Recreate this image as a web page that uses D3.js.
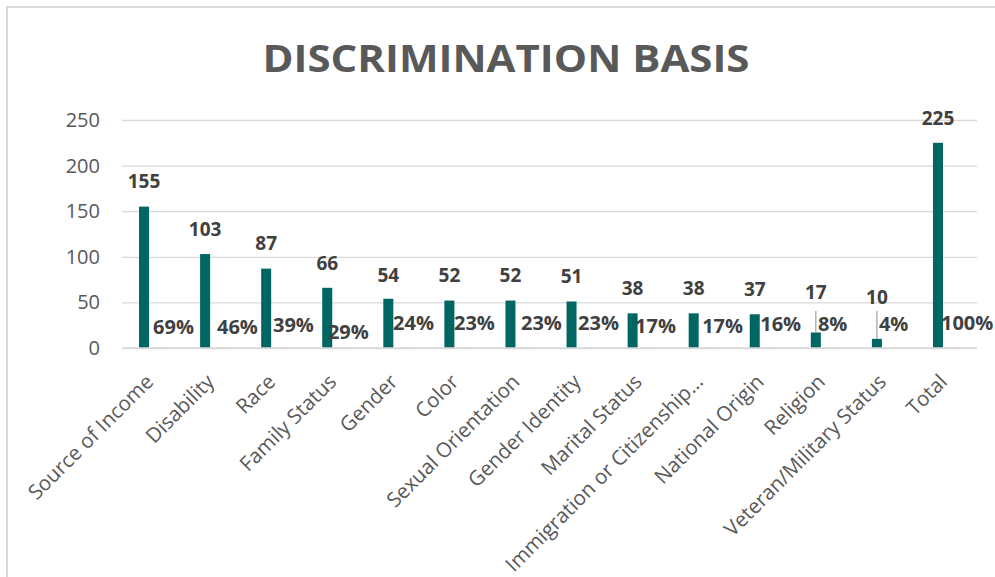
<!DOCTYPE html>
<html>
<head>
<meta charset="utf-8">
<script src="https://cdn.jsdelivr.net/npm/d3@7"></script>
<style>
  html, body { margin: 0; padding: 0; background: #fff; }
  svg { display: block; font-family: "Open Sans", "Noto Sans", sans-serif; }
</style>
</head>
<body>
<svg id="chart" width="995" height="577"></svg>
<script>
// ---- data ----
const categories = ["Source of Income", "Disability", "Race", "Family Status", "Gender", "Color",
  "Sexual Orientation", "Gender Identity", "Marital Status", "Immigration or Citizenship\u2026",
  "National Origin", "Religion", "Veteran/Military Status", "Total"];
const counts = [155, 103, 87, 66, 54, 52, 52, 51, 38, 38, 37, 17, 10, 225];
const shares = [0.69, 0.46, 0.39, 0.29, 0.24, 0.23, 0.23, 0.23, 0.17, 0.17, 0.16, 0.08, 0.04, 1.00];
const yTicks = [0, 50, 100, 150, 200, 250];
const title = "DISCRIMINATION BASIS";

// ---- layout (manual label placements as in the original) ----
const pctNudgeX = [0.5, 3.4, -1.7, -7.8, -3.8, -3.9, 2, -2, -6, 0, -3, -6.4, -6.5, -5.5];
const pctCenterY = [327, 327, 325, 332, 323, 323, 323, 323, 326, 326, 324, 324, 324, 323];
const countLift = [25, 25, 25, 25, 24, 25, 25, 25, 25, 25, 25, 40, 42, 25];
const leaderIdx = [11, 12];

const svg = d3.select("#chart");
const W = 995, H = 577;

// chart border
svg.append("rect").attr("x", 7).attr("y", 7).attr("width", W).attr("height", H)
  .attr("fill", "#fff").attr("stroke", "#d9d9d9").attr("stroke-width", 2);

const x = d3.scaleBand().domain(categories).range([122, 977]).paddingInner(0).paddingOuter(0);
const y = d3.scaleLinear().domain([0, 250]).range([348, 120]);
const c = d => x(d) + x.bandwidth() / 2;

// title
svg.append("text").attr("x", 506).attr("y", 72).attr("text-anchor", "middle")
  .attr("font-size", 38).attr("font-weight", 700).attr("fill", "#595959")
  .attr("textLength", 487).attr("lengthAdjust", "spacingAndGlyphs")
  .text(title);

// gridlines
const yAxis = d3.axisLeft(y).tickValues(yTicks).tickSize(-(977 - 122)).tickPadding(22);
const gy = svg.append("g").attr("transform", "translate(122,0)").call(yAxis);
gy.select(".domain").remove();
gy.selectAll(".tick line").attr("stroke", "#d9d9d9").attr("stroke-width", 1.3);
gy.selectAll(".tick text").attr("font-size", 20).attr("fill", "#595959")
  .attr("font-family", "'Open Sans', sans-serif");

// bars - counts
const barW = 10;
svg.append("g").selectAll("rect").data(categories).join("rect")
  .attr("x", (d) => c(d) - 13.5)
  .attr("width", barW)
  .attr("y", (d, i) => y(counts[i]))
  .attr("height", (d, i) => y(0) - y(counts[i]))
  .attr("fill", "#006663");

// bars - shares (tiny on this axis)
svg.append("g").selectAll("rect").data(categories).join("rect")
  .attr("x", (d) => c(d) + 1.5)
  .attr("width", barW + 2)
  .attr("y", (d, i) => y(shares[i]))
  .attr("height", (d, i) => y(0) - y(shares[i]))
  .attr("fill", "#f2c9ae");

// leader lines
svg.append("g").selectAll("line").data(leaderIdx).join("line")
  .attr("x1", i => c(categories[i]) - 8.5).attr("x2", i => c(categories[i]) - 8.5)
  .attr("y1", 311).attr("y2", i => y(counts[i]))
  .attr("stroke", "#a6a6a6").attr("stroke-width", 1.3);

// count labels
svg.append("g").selectAll("text").data(categories).join("text")
  .attr("x", d => c(d) - 8.5)
  .attr("y", (d, i) => y(counts[i]) - countLift[i])
  .attr("dy", "0.36em")
  .attr("text-anchor", "middle")
  .attr("font-size", 19).attr("font-weight", 700).attr("fill", "#404040")
  .text((d, i) => counts[i]);

// share labels
const pct = d3.format(".0%");
svg.append("g").selectAll("text").data(categories).join("text")
  .attr("x", (d, i) => c(d) + pctNudgeX[i])
  .attr("y", (d, i) => pctCenterY[i])
  .attr("dy", "0.36em")
  .attr("text-anchor", "start")
  .attr("font-size", 20).attr("font-weight", 700).attr("fill", "#404040")
  .text((d, i) => pct(shares[i]));

// x axis baseline
svg.append("line").attr("x1", 122).attr("x2", 977).attr("y1", y(0)).attr("y2", y(0))
  .attr("stroke", "#d9d9d9").attr("stroke-width", 1.5);

// category labels
svg.append("g").selectAll("text").data(categories).join("text")
  .attr("transform", d => `translate(${c(d) + 2},${383}) rotate(-45)`)
  .attr("text-anchor", "end")
  .attr("font-size", 20.5).attr("fill", "#595959")
  .text(d => d);
</script>
</body>
</html>
